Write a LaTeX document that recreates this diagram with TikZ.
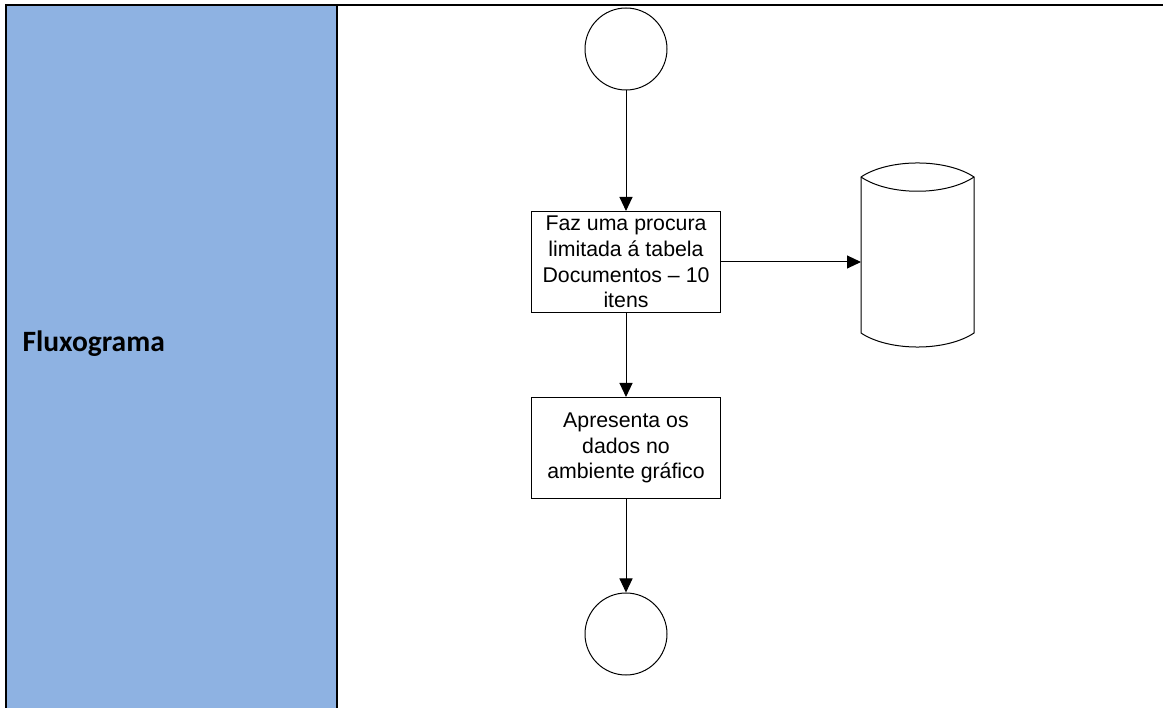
\documentclass[tikz,border=0pt]{standalone}
\usepackage{fontspec}
\setmainfont{Liberation Sans}
\newfontfamily\labelfont{Carlito}
\usetikzlibrary{arrows.meta}
\definecolor{laneblue}{RGB}{142,178,226}
\tikzset{
	procbox/.style={draw,line width=1pt,minimum width=189pt,minimum height=101pt,inner sep=0pt,align=center,font=\fontsize{21.3}{25.7}\selectfont},
	termcircle/.style={draw,line width=1pt,circle,minimum size=82pt,inner sep=0pt},
	dbstore/.style={minimum width=113pt,minimum height=184pt,inner sep=0pt,outer sep=0pt},
	flow/.style={line width=1pt,-{Triangle[length=14pt,width=13pt]}},
}
\begin{document}
\begin{tikzpicture}[x=1pt,y=-1pt]
		\useasboundingbox (0,0) rectangle (1163,708);
		\begin{scope}
			\fill[laneblue] (7,6) rectangle (336,708);
			\draw[line width=2pt] (6,708) -- (6,5) -- (1163,5);
			\draw[line width=2pt] (337,5) -- (337,708);
			\node[anchor=base west,font=\labelfont\bfseries\fontsize{29.5}{35}\selectfont] (lane) at (19,352) {Fluxograma};
		\end{scope}
		\begin{scope}
			\node[termcircle] (start) at (626,49) {};
			\node[procbox] (search) at (626,262) {Faz uma procura\\limitada á tabela\\Documentos -- 10\\itens};
			\node[dbstore] (db) at (917.5,255) {};
			\draw[line width=1pt] (861,177) .. controls (889,158.3) and (946,158.3) .. (974,177) -- (974,333)
				.. controls (946,351.7) and (889,351.7) .. (861,333) -- cycle;
			\draw[line width=1pt] (861,177) .. controls (889,196) and (946,196) .. (974,177);
			\node[procbox] (show) at (626,448) {Apresenta os\\dados no\\ambiente gráfico};
			\node[termcircle] (stop) at (626,634) {};
			\draw[flow] (start) -- (search);
			\draw[flow] (search) -- (show);
			\draw[flow] (show) -- (stop);
			\draw[flow] (search.east) -- (search.east -| db.west);
		\end{scope}
	\end{tikzpicture}
\end{document}
